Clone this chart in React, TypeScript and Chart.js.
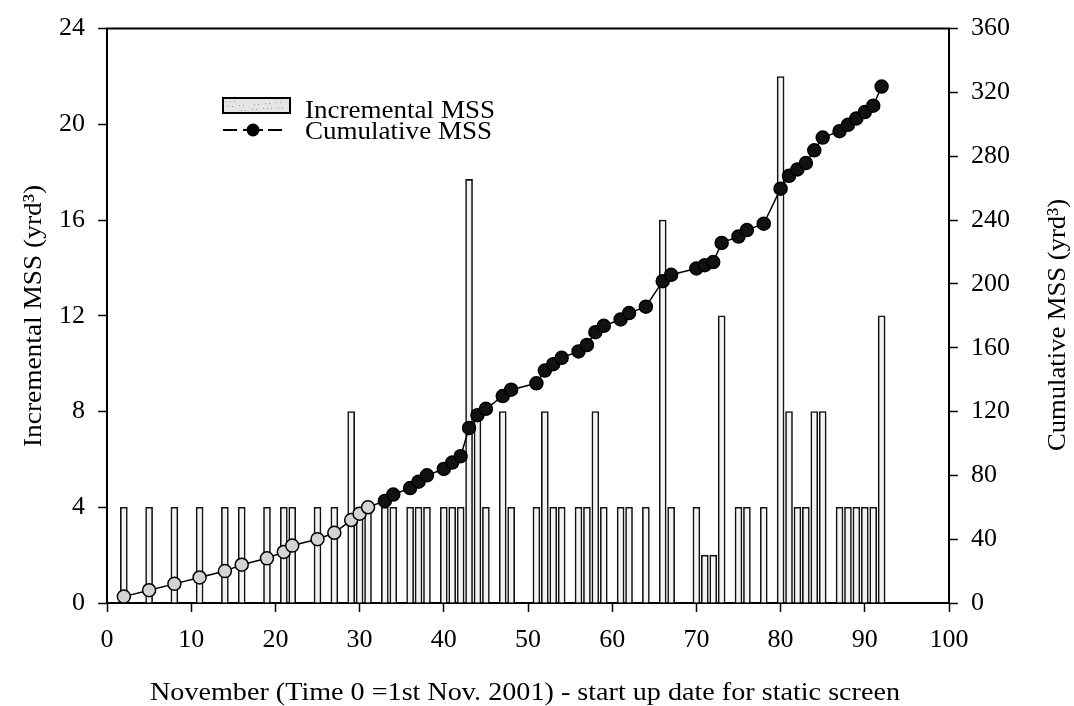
import React, { useEffect, useRef } from 'react';
import { Chart, registerables } from 'chart.js';
Chart.register(...registerables);

// Day of November (time 0 = 1st Nov 2001)
const days = [2, 5, 8, 11, 14, 16, 19, 21, 22, 25, 27, 29, 30, 31, 33, 34, 36, 37, 38, 40, 41, 42,
  43, 44, 45, 47, 48, 51, 52, 53, 54, 56, 57, 58, 59, 61, 62, 64, 66, 67, 70, 71, 72, 73,
  75, 76, 78, 80, 81, 82, 83, 84, 85, 87, 88, 89, 90, 91, 92];

// Incremental MSS (yd^3)
const incremental = [4, 4, 4, 4, 4, 4, 4, 4, 4, 4, 4, 8, 4, 4, 4, 4, 4, 4, 4, 4, 4, 4,
  17.7, 8, 4, 8, 4, 4, 8, 4, 4, 4, 4, 8, 4, 4, 4, 4, 16, 4, 4, 2, 2, 12,
  4, 4, 4, 22, 8, 4, 4, 8, 8, 4, 4, 4, 4, 4, 12];

// Cumulative MSS (yd^3)
const cumulative = [4, 8, 12, 16, 20, 24, 28, 32, 36, 40, 44, 52, 56, 60, 64, 68, 72, 76, 80, 84, 88, 92,
  109.7, 117.7, 121.7, 129.7, 133.7, 137.7, 145.7, 149.7, 153.7, 157.7, 161.7, 169.7, 173.7, 177.7, 181.7, 185.7,
  201.7, 205.7, 209.7, 211.7, 213.7, 225.7, 229.7, 233.7, 237.7, 259.7, 267.7, 271.7, 275.7, 283.7, 291.7,
  295.7, 299.7, 303.7, 307.7, 311.7, 323.7];

const xTitle = 'November (Time 0 =1st Nov. 2001) - start up date for static screen';
const leftTitle = 'Incremental MSS (yrd³)';
const rightTitle = 'Cumulative MSS (yrd³)';
const legendBar = 'Incremental MSS';
const legendLine = 'Cumulative MSS';

const FONT = "'Liberation Serif', 'Times New Roman', Times, serif";

function fitText(ctx: CanvasRenderingContext2D, text: string, targetW: number) {
  const w = ctx.measureText(text).width;
  const s = targetW / w;
  ctx.scale(s, 1);
  ctx.fillText(text, 0, 0);
}

const framePlugin = {
  id: 'frameAndText',
  afterDraw(chart: any) {
    const { ctx, chartArea } = chart;
    const { left, right, top } = chartArea;
    ctx.save();
    ctx.strokeStyle = '#000';
    ctx.lineWidth = 2;
    ctx.beginPath();
    ctx.moveTo(left - 1, top);
    ctx.lineTo(right + 1, top);
    ctx.stroke();

    ctx.fillStyle = '#000';
    ctx.font = `26px ${FONT}`;
    ctx.textBaseline = 'alphabetic';

    // x title
    ctx.save();
    ctx.translate(150, 700);
    ctx.textAlign = 'left';
    fitText(ctx, xTitle, 750);
    ctx.restore();

    // left title
    ctx.save();
    ctx.translate(41, 316);
    ctx.rotate(-Math.PI / 2);
    ctx.textAlign = 'center';
    fitText(ctx, leftTitle, 262);
    ctx.restore();

    // right title
    ctx.save();
    ctx.translate(1065, 325);
    ctx.rotate(-Math.PI / 2);
    ctx.textAlign = 'center';
    fitText(ctx, rightTitle, 252);
    ctx.restore();

    // legend
    ctx.fillStyle = '#e4e4e4';
    ctx.fillRect(223, 98, 67, 15);
    ctx.fillStyle = '#9a9a9a';
    for (let i = 0; i < 22; i++) {
      const px = 226 + ((i * 37) % 61);
      const py = 101 + ((i * 7) % 10);
      ctx.fillRect(px, py, 1, 1);
    }
    ctx.strokeStyle = '#000';
    ctx.lineWidth = 2;
    ctx.strokeRect(223, 98, 67, 15);

    ctx.beginPath();
    ctx.moveTo(223, 130); ctx.lineTo(237, 130);
    ctx.moveTo(268, 130); ctx.lineTo(282, 130);
    ctx.moveTo(243, 130); ctx.lineTo(263, 130);
    ctx.stroke();
    ctx.fillStyle = '#000';
    ctx.beginPath();
    ctx.arc(253, 130, 6.5, 0, Math.PI * 2);
    ctx.fill();

    ctx.textAlign = 'left';
    ctx.save();
    ctx.translate(305, 118);
    fitText(ctx, legendBar, 190);
    ctx.restore();
    ctx.save();
    ctx.translate(305, 139);
    fitText(ctx, legendLine, 187);
    ctx.restore();
    ctx.restore();
  },
};

export default function App() {
  const ref = useRef<HTMLCanvasElement>(null);
  useEffect(() => {
    document.body.style.margin = '0';
    const tickFont = { family: FONT, size: 26 };
    const grid = {
      drawOnChartArea: false,
      drawTicks: true,
      tickLength: 9,
      tickColor: '#000',
      tickWidth: 1.5,
      color: '#000',
    };
    const border = { display: true, color: '#000', width: 2 };
    const chart = new Chart(ref.current as HTMLCanvasElement, {
      type: 'bar',
      data: {
        datasets: [
          {
            type: 'line',
            label: legendLine,
            data: days.map((d, i) => ({ x: d, y: cumulative[i] })),
            yAxisID: 'y2',
            borderColor: '#000',
            borderWidth: 1.5,
            pointRadius: 6.5,
            pointBorderWidth: 1.5,
            pointBorderColor: '#000',
            pointBackgroundColor: (c: any) => (c.raw && c.raw.x <= 31 ? '#d4d4d4' : '#111'),
            order: 0,
          } as any,
          {
            type: 'bar',
            label: legendBar,
            data: days.map((d, i) => ({ x: d, y: incremental[i] })),
            yAxisID: 'y',
            backgroundColor: '#f3f3f3',
            borderColor: '#111',
            borderWidth: 1.6,
            barThickness: 7,
            grouped: false,
            order: 1,
          } as any,
        ],
      },
      options: {
        animation: false,
        responsive: true,
        maintainAspectRatio: false,
        layout: { padding: { top: 24, left: 0, right: 0, bottom: 0 } },
        plugins: { legend: { display: false }, tooltip: { enabled: false } },
        scales: {
          x: {
            type: 'linear',
            min: 0,
            max: 100,
            offset: false,
            ticks: { stepSize: 10, font: tickFont, color: '#000', padding: 13, maxRotation: 0 },
            grid: { ...grid, offset: false },
            border,
            afterFit: (a: any) => { a.height = 103; },
          },
          y: {
            position: 'left',
            min: 0,
            max: 24,
            ticks: { stepSize: 4, font: tickFont, color: '#000', padding: 13 },
            grid,
            border,
            afterFit: (a: any) => { a.width = 107; },
          },
          y2: {
            position: 'right',
            min: 0,
            max: 360,
            ticks: { stepSize: 40, font: tickFont, color: '#000', padding: 13 },
            grid,
            border,
            afterFit: (a: any) => { a.width = 1074 - 949; },
          },
        } as any,
      },
      plugins: [framePlugin],
    });
    return () => chart.destroy();
  }, []);
  return (
    <div style={{ position: 'fixed', left: 0, top: 0, width: 1074, height: 706, background: '#fff' }}>
      <canvas ref={ref} />
    </div>
  );
}
